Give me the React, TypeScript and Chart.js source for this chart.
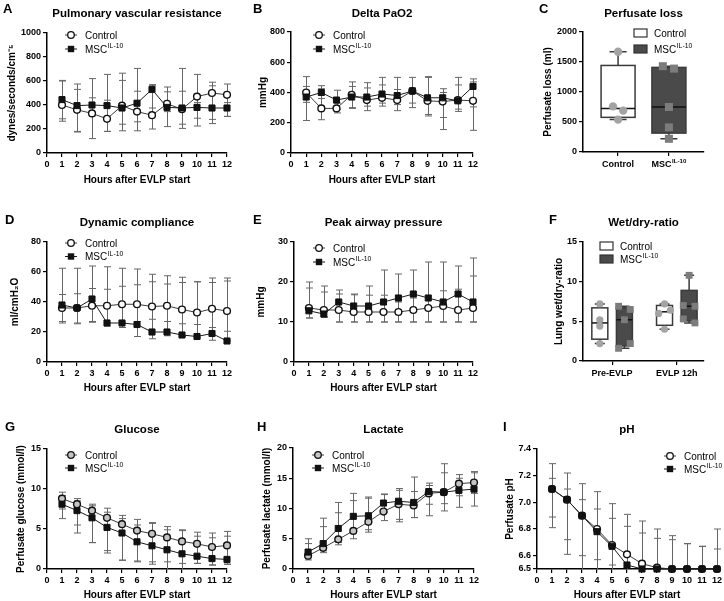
import React, { useEffect, useRef } from 'react';
import { Chart, registerables } from 'chart.js';
Chart.register(...registerables);

const FONT = '"Liberation Sans", Arial, Helvetica, sans-serif';
Chart.defaults.font.family = FONT;
Chart.defaults.color = '#000';

// ---------- shared ----------
const hours = [1, 2, 3, 4, 5, 6, 7, 8, 9, 10, 11, 12];
const hourTicks = [0, 1, 2, 3, 4, 5, 6, 7, 8, 9, 10, 11, 12];
const xTitleText = 'Hours after EVLP start';
const ctrlName = 'Control';
const mscName = 'MSC';
const mscSup = 'IL-10';

// ---------- A: Pulmonary vascular resistance ----------
const pvrCtrl = [400, 360, 330, 285, 395, 345, 315, 410, 365, 470, 500, 485];
const pvrCtrlLo = [265, 175, 120, 180, 185, 185, 200, 220, 205, 225, 245, 305];
const pvrCtrlHi = [600, 530, 460, 440, 605, 515, 560, 510, 515, 655, 590, 575];
const pvrMsc = [445, 395, 400, 395, 375, 415, 530, 380, 375, 380, 375, 375];
const pvrMscLo = [285, 180, 310, 180, 240, 260, 375, 345, 240, 290, 280, 305];
const pvrMscHi = [605, 575, 620, 655, 665, 705, 570, 550, 705, 420, 560, 420];
const pvrTicks = [0, 200, 400, 600, 800, 1000];

// ---------- B: Delta PaO2 ----------
const paoCtrl = [400, 295, 295, 385, 350, 365, 350, 410, 345, 340, 350, 345];
const paoCtrlLo = [215, 220, 265, 300, 280, 310, 280, 300, 245, 155, 275, 150];
const paoCtrlHi = [505, 425, 330, 470, 430, 450, 420, 500, 500, 400, 450, 470];
const paoMsc = [370, 400, 350, 370, 370, 390, 380, 410, 365, 365, 345, 440];
const paoMscLo = [335, 360, 290, 295, 310, 330, 320, 330, 255, 235, 290, 305];
const paoMscHi = [440, 445, 415, 440, 465, 500, 500, 430, 505, 425, 500, 490];
const paoTicks = [0, 200, 400, 600, 800];

// ---------- C: Perfusate loss (individual lungs) ----------
const lossCtrl = [1670, 760, 690, 540];
const lossCtrlJitter = [0, -0.1, 0.1, 0];
const lossMsc = [1430, 1390, 750, 410, 220];
const lossMscJitter = [-0.12, 0.1, 0, 0, 0];
const lossTicks = [0, 500, 1000, 1500, 2000];

// ---------- D: Dynamic compliance ----------
const compCtrl = [36, 36, 37.5, 37.5, 38.5, 38.5, 37, 37.5, 35, 33, 35.5, 34];
const compCtrlLo = [27, 26, 27, 26, 26.5, 27, 28.5, 27, 25.5, 25, 23, 20.5];
const compCtrlHi = [45, 45.5, 49, 48.5, 50.5, 51.5, 53.5, 52, 53, 53.5, 53, 54];
const compMsc = [38, 36, 42, 26, 26, 25, 20, 20, 18, 17, 19, 14];
const compMscLo = [26, 25.5, 26.5, 24, 23, 17, 15.5, 17.5, 17, 16, 14.5, 14];
const compMscHi = [62.5, 62.5, 64, 63.5, 62.5, 62, 58.5, 57.5, 56.5, 53.5, 56, 56];
const compTicks = [0, 20, 40, 60, 80];

// ---------- E: Peak airway pressure ----------
const pawCtrl = [13.5, 13, 13, 12.5, 12.5, 12.5, 12.5, 13, 13.5, 14, 13, 13.5];
const pawCtrlLo = [11, 11.2, 10, 10, 10, 10, 10, 10, 10, 10, 10, 10];
const pawCtrlHi = [18.5, 17.5, 17, 16.8, 16.7, 16.7, 15, 16, 16.5, 17.8, 18.2, 21.5];
const pawMsc = [12.8, 12, 15, 14, 14, 15, 16, 17, 16, 15, 17, 15];
const pawMscLo = [11, 11.2, 10, 10, 10, 10, 10, 10, 10, 10, 10, 10];
const pawMscHi = [20, 19, 18, 17, 19, 23, 22, 23, 25, 25, 24, 26];
const pawTicks = [0, 10, 20, 30];

// ---------- F: Wet/dry ratio (individual lungs) ----------
const wdCategories = ['Pre-EVLP', 'EVLP 12h'];
const wdPreCtrl = [7.2, 5.2, 4.4, 2.2];
const wdPreCtrlJitter = [0, 0, 0, 0];
const wdPreMsc = [6.9, 6.5, 5.2, 2.2, 1.6];
const wdPreMscJitter = [-0.09, 0.09, 0, 0.09, -0.09];
const wdPostCtrl = [7.2, 6.4, 6.0, 4.0];
const wdPostCtrlJitter = [0, 0.09, -0.09, 0];
const wdPostMsc = [10.8, 7.0, 6.9, 5.3, 4.8];
const wdPostMscJitter = [0, -0.09, 0.09, -0.09, 0.09];
const wdTicks = [0, 5, 10, 15];

// ---------- G: Glucose ----------
const gluCtrl = [8.8, 8.1, 7.3, 6.4, 5.6, 4.8, 4.4, 3.95, 3.45, 3.15, 2.75, 2.95];
const gluCtrlLo = [7.5, 5.5, 3.3, 2.3, 1.1, 1.0, 0.9, 0.9, 0.7, 0.7, 0.5, 0.6];
const gluCtrlHi = [9.6, 8.8, 8.1, 7.6, 6.7, 6.2, 5.8, 5.3, 4.9, 4.6, 4.5, 4.7];
const gluMsc = [8.1, 7.3, 6.4, 5.2, 4.5, 3.4, 2.9, 2.4, 1.9, 1.6, 1.3, 1.2];
const gluMscLo = [6.3, 4.5, 3.3, 2.0, 1.1, 0.9, 0.6, -0.5, -0.5, 0.7, 0.5, 0.6];
const gluMscHi = [9.2, 8.5, 7.9, 7.1, 6.3, 5.5, 5.7, 4.9, 4.8, 4.1, 3.9, 4.1];
const gluTicks = [0, 5, 10, 15];

// ---------- H: Lactate ----------
const lacCtrl = [2.2, 3.5, 4.9, 6.3, 7.8, 9.5, 10.7, 10.5, 12.5, 12.7, 14.1, 14.3];
const lacCtrlLo = [1.5, 2.7, 4.0, 5.0, 6.1, 8.0, 7.8, 8.5, 10.7, 9.6, 12.1, 12.5];
const lacCtrlHi = [4.2, 7.0, 9.3, 11.3, 11.7, 12.3, 13.3, 12.8, 14.2, 15.9, 15.6, 16.1];
const lacMsc = [2.8, 4.2, 6.7, 8.7, 8.8, 10.9, 11.2, 11.0, 12.8, 12.7, 13.0, 13.2];
const lacMscLo = [2.0, 3.0, 4.4, 6.5, 6.5, 9.4, 8.2, 8.5, 8.8, 10.8, 10.2, 10.4];
const lacMscHi = [5.0, 8.4, 11.0, 12.5, 11.9, 12.4, 13.0, 15.2, 13.8, 17.4, 15.0, 15.9];
const lacTicks = [0, 5, 10, 15, 20];

// ---------- I: pH ----------
const phCtrl = [7.10, 7.02, 6.90, 6.80, 6.68, 6.61, 6.54, 6.51, 6.50, 6.50, 6.50, 6.50];
const phCtrlLo = [6.89, 6.72, 6.60, 6.57, 6.53, 6.4, 6.4, 6.4, 6.4, 6.4, 6.4, 6.4];
const phCtrlHi = [7.18, 7.10, 7.02, 6.95, 6.88, 6.82, 6.77, 6.73, 6.72, 6.69, 6.67, 6.65];
const phMsc = [7.10, 7.02, 6.90, 6.78, 6.67, 6.53, 6.50, 6.50, 6.50, 6.50, 6.50, 6.50];
const phMscLo = [6.81, 6.61, 6.4, 6.4, 6.4, 6.4, 6.4, 6.4, 6.4, 6.4, 6.4, 6.4];
const phMscHi = [7.29, 7.22, 7.14, 7.08, 6.99, 6.91, 6.86, 6.80, 6.75, 6.69, 6.67, 6.80];
const phTicks = [6.5, 6.6, 6.8, 7.0, 7.2, 7.4];

// ---------- helpers ----------
function quantile(sorted: number[], p: number) {
  const n = sorted.length;
  let pos = p * (n + 1);
  if (pos < 1) pos = 1;
  if (pos > n) pos = n;
  const lo = Math.floor(pos);
  const frac = pos - lo;
  if (lo >= n) return sorted[n - 1];
  return sorted[lo - 1] + frac * (sorted[lo] - sorted[lo - 1]);
}

function drawRich(ctx: any, base: string, sup: string, x: number, y: number, size: number, weight: string, align: string) {
  const supSize = size * 0.68;
  ctx.font = `${weight} ${size}px ${FONT}`;
  const wb = ctx.measureText(base).width;
  ctx.font = `${weight} ${supSize}px ${FONT}`;
  const ws = sup ? ctx.measureText(sup).width + 0.5 : 0;
  const total = wb + ws;
  const x0 = align === 'center' ? x - total / 2 : align === 'right' ? x - total : x;
  ctx.textAlign = 'left';
  ctx.textBaseline = 'alphabetic';
  ctx.font = `${weight} ${size}px ${FONT}`;
  ctx.fillText(base, x0, y);
  if (sup) {
    ctx.font = `${weight} ${supSize}px ${FONT}`;
    ctx.fillText(sup, x0 + wb + 0.5, y - size * 0.42);
  }
}

type Series = { name: string; sup: string; mean: number[]; lo: number[]; hi: number[]; marker: 'circle' | 'rect'; fill: string };
type Group = { center: number; values: number[]; jitter: number[]; fill: string; pointColor: string; marker: 'circle' | 'rect' };

const CTRL_LINE = '#3a3a3a';
const MSC_LINE = '#1a1a1a';
const ERR_COLOR = '#666666';

function lineSeries(ctrl: number[], ctrlLo: number[], ctrlHi: number[], msc: number[], mscLo: number[], mscHi: number[], ctrlFill: string): Series[] {
  return [
    { name: ctrlName, sup: '', mean: ctrl, lo: ctrlLo, hi: ctrlHi, marker: 'circle', fill: ctrlFill },
    { name: mscName, sup: mscSup, mean: msc, lo: mscLo, hi: mscHi, marker: 'rect', fill: '#111' },
  ];
}

const panels: any[] = [
  {
    key: 'A', kind: 'line', canvas: { x: 0, y: 0, w: 248, h: 195 }, area: { l: 47, t: 33, r: 227, b: 153 },
    letter: 'A', letterX: 3, letterY: 13, title: 'Pulmonary vascular resistance', titleY: 17,
    yTitle: 'dynes/seconds/cm\u207B\u2075', yTitleX: 12, xTitleY: 180, yMin: 0, yMax: 1000, yTicks: pvrTicks,
    series: lineSeries(pvrCtrl, pvrCtrlLo, pvrCtrlHi, pvrMsc, pvrMscLo, pvrMscHi, '#fff'),
    legend: { x: 71, y: 35, dy: 14 },
  },
  {
    key: 'B', kind: 'line', canvas: { x: 248, y: 0, w: 247, h: 195 }, area: { l: 291, t: 32, r: 473, b: 153 },
    letter: 'B', letterX: 253, letterY: 13, title: 'Delta PaO2', titleY: 17,
    yTitle: 'mmHg', yTitleX: 263, xTitleY: 180, yMin: 0, yMax: 800, yTicks: paoTicks,
    series: lineSeries(paoCtrl, paoCtrlLo, paoCtrlHi, paoMsc, paoMscLo, paoMscHi, '#fff'),
    legend: { x: 319, y: 35, dy: 14 },
  },
  {
    key: 'C', kind: 'box', canvas: { x: 530, y: 0, w: 194, h: 195 }, area: { l: 583, t: 32, r: 704, b: 152 },
    letter: 'C', letterX: 539, letterY: 13, title: 'Perfusate loss', titleY: 17,
    yTitle: 'Perfusate loss (ml)', yTitleX: 548, yMin: 0, yMax: 2000, yTicks: lossTicks,
    xMin: -0.69, xMax: 1.69, xTickVals: [0, 1], xTickLabels: [[ctrlName, ''], [mscName, mscSup]], richXLabels: true,
    boxHalf: 17, capHalf: 8.5, pointRadius: 4.2,
    groups: [
      { center: 0, values: lossCtrl, jitter: lossCtrlJitter, fill: '#ffffff', pointColor: '#a3a3a3', marker: 'circle' },
      { center: 1, values: lossMsc, jitter: lossMscJitter, fill: '#4a4a4a', pointColor: '#7c7c7c', marker: 'rect' },
    ],
    legend: { x: 634, y: 33, dy: 16 },
  },
  {
    key: 'D', kind: 'line', canvas: { x: 0, y: 195, w: 248, h: 200 }, area: { l: 47, t: 242, r: 227, b: 362 },
    letter: 'D', letterX: 5, letterY: 224, title: 'Dynamic compliance', titleY: 226,
    yTitle: 'ml/cmH\u2082O', yTitleX: 15, xTitleY: 388, yMin: 0, yMax: 80, yTicks: compTicks,
    series: lineSeries(compCtrl, compCtrlLo, compCtrlHi, compMsc, compMscLo, compMscHi, '#fff'),
    legend: { x: 71, y: 243, dy: 13.5 },
  },
  {
    key: 'E', kind: 'line', canvas: { x: 248, y: 195, w: 247, h: 200 }, area: { l: 294, t: 242, r: 473, b: 362 },
    letter: 'E', letterX: 253, letterY: 224, title: 'Peak airway pressure', titleY: 226,
    yTitle: 'mmHg', yTitleX: 261, xTitleY: 388, yMin: 0, yMax: 30, yTicks: pawTicks,
    series: lineSeries(pawCtrl, pawCtrlLo, pawCtrlHi, pawMsc, pawMscLo, pawMscHi, '#fff'),
    legend: { x: 319, y: 248, dy: 14 },
  },
  {
    key: 'F', kind: 'box', canvas: { x: 530, y: 195, w: 194, h: 200 }, area: { l: 583, t: 242, r: 704, b: 361 },
    letter: 'F', letterX: 549, letterY: 224, title: 'Wet/dry-ratio', titleY: 226,
    yTitle: 'Lung wet/dry-ratio', yTitleX: 559, yMin: 0, yMax: 15, yTicks: wdTicks,
    xMin: -0.45, xMax: 1.42, xTickVals: [0, 1], xTickLabels: [[wdCategories[0], ''], [wdCategories[1], '']], richXLabels: false,
    boxHalf: 8, capHalf: 5, pointRadius: 3.6,
    groups: [
      { center: -0.19, values: wdPreCtrl, jitter: wdPreCtrlJitter, fill: '#ffffff', pointColor: '#a3a3a3', marker: 'circle' },
      { center: 0.19, values: wdPreMsc, jitter: wdPreMscJitter, fill: '#4a4a4a', pointColor: '#7c7c7c', marker: 'rect' },
      { center: 0.81, values: wdPostCtrl, jitter: wdPostCtrlJitter, fill: '#ffffff', pointColor: '#a3a3a3', marker: 'circle' },
      { center: 1.19, values: wdPostMsc, jitter: wdPostMscJitter, fill: '#4a4a4a', pointColor: '#7c7c7c', marker: 'rect' },
    ],
    legend: { x: 600, y: 246, dy: 13 },
  },
  {
    key: 'G', kind: 'line', canvas: { x: 0, y: 395, w: 248, h: 206 }, area: { l: 47, t: 449, r: 227, b: 569 },
    letter: 'G', letterX: 5, letterY: 431, title: 'Glucose', titleY: 433,
    yTitle: 'Perfusate glucose (mmol/l)', yTitleX: 21, xTitleY: 596, yMin: 0, yMax: 15, yTicks: gluTicks,
    series: lineSeries(gluCtrl, gluCtrlLo, gluCtrlHi, gluMsc, gluMscLo, gluMscHi, '#c4c4c4'),
    legend: { x: 71, y: 455, dy: 13 },
  },
  {
    key: 'H', kind: 'line', canvas: { x: 248, y: 395, w: 247, h: 206 }, area: { l: 293, t: 448, r: 474, b: 569 },
    letter: 'H', letterX: 257, letterY: 431, title: 'Lactate', titleY: 433,
    yTitle: 'Perfusate lactate (mmol/l)', yTitleX: 267, xTitleY: 596, yMin: 0, yMax: 20, yTicks: lacTicks,
    series: lineSeries(lacCtrl, lacCtrlLo, lacCtrlHi, lacMsc, lacMscLo, lacMscHi, '#c4c4c4'),
    legend: { x: 318, y: 455, dy: 13 },
  },
  {
    key: 'I', kind: 'line', canvas: { x: 495, y: 395, w: 229, h: 206 }, area: { l: 537, t: 449, r: 717, b: 569 },
    letter: 'I', letterX: 503, letterY: 431, title: 'pH', titleY: 433,
    yTitle: 'Perfusate pH', yTitleX: 510, xTitleY: 596, yMin: 6.5, yMax: 7.4, yTicks: phTicks, yFmt: (v: number) => v.toFixed(1),
    series: lineSeries(phCtrl, phCtrlLo, phCtrlHi, phMsc, phMscLo, phMscHi, '#fff'),
    legend: { x: 670, y: 456, dy: 13 },
  },
];

function drawMarker(ctx: any, kind: string, x: number, y: number, r: number, fill: string, stroke: string | null) {
  ctx.beginPath();
  if (kind === 'circle') ctx.arc(x, y, r, 0, Math.PI * 2);
  else ctx.rect(x - r, y - r, 2 * r, 2 * r);
  ctx.fillStyle = fill;
  ctx.fill();
  if (stroke) {
    ctx.strokeStyle = stroke;
    ctx.lineWidth = 1.3;
    ctx.stroke();
  }
}

function makeDecor(p: any) {
  const c = p.canvas;
  return {
    id: 'decor' + p.key,
    beforeDatasetsDraw(chart: any) {
      const ctx = chart.ctx;
      const ca = chart.chartArea;
      const xs = chart.scales.x;
      const ys = chart.scales.y;
      ctx.save();
      if (p.kind === 'line') {
        ctx.beginPath();
        ctx.rect(ca.left - 12, ca.top - 12, ca.right - ca.left + 24, ca.bottom - ca.top + 12);
        ctx.clip();
        p.series.forEach((s: Series) => {
          ctx.strokeStyle = ERR_COLOR;
          ctx.lineWidth = 1;
          hours.forEach((h, i) => {
            const x = Math.round(xs.getPixelForValue(h)) + 0.5;
            const yl = ys.getPixelForValue(s.lo[i]);
            const yh = ys.getPixelForValue(s.hi[i]);
            ctx.beginPath();
            ctx.moveTo(x, yl); ctx.lineTo(x, yh);
            ctx.moveTo(x - 3.5, yl); ctx.lineTo(x + 3.5, yl);
            ctx.moveTo(x - 3.5, yh); ctx.lineTo(x + 3.5, yh);
            ctx.stroke();
          });
        });
      } else {
        p.groups.forEach((g: Group) => {
          const s = [...g.values].sort((a, b) => a - b);
          const mn = s[0], mx = s[s.length - 1];
          const q1 = quantile(s, 0.25), md = quantile(s, 0.5), q3 = quantile(s, 0.75);
          const x = xs.getPixelForValue(g.center);
          const py = (v: number) => ys.getPixelForValue(v);
          const hw = p.boxHalf, cw = p.capHalf;
          ctx.strokeStyle = '#3a3a3a';
          ctx.lineWidth = 1.5;
          ctx.beginPath();
          ctx.moveTo(x, py(mn)); ctx.lineTo(x, py(q1));
          ctx.moveTo(x, py(q3)); ctx.lineTo(x, py(mx));
          ctx.moveTo(x - cw, py(mn)); ctx.lineTo(x + cw, py(mn));
          ctx.moveTo(x - cw, py(mx)); ctx.lineTo(x + cw, py(mx));
          ctx.stroke();
          ctx.fillStyle = g.fill;
          ctx.fillRect(x - hw, py(q3), 2 * hw, py(q1) - py(q3));
          ctx.strokeRect(x - hw, py(q3), 2 * hw, py(q1) - py(q3));
          ctx.strokeStyle = '#111';
          ctx.beginPath();
          ctx.moveTo(x - hw, py(md)); ctx.lineTo(x + hw, py(md));
          ctx.stroke();
        });
      }
      ctx.restore();
    },
    afterDraw(chart: any) {
      const ctx = chart.ctx;
      const ca = chart.chartArea;
      ctx.save();
      ctx.fillStyle = '#000';
      ctx.textBaseline = 'alphabetic';
      ctx.textAlign = 'left';
      ctx.font = `bold 13px ${FONT}`;
      ctx.fillText(p.letter, p.letterX - c.x, p.letterY - c.y);
      ctx.font = `bold 11.5px ${FONT}`;
      ctx.textAlign = 'center';
      ctx.fillText(p.title, (ca.left + ca.right) / 2, p.titleY - c.y);

      // legend
      const L = p.legend;
      const lx = L.x - c.x;
      const ly = L.y - c.y;
      if (p.kind === 'line') {
        p.series.forEach((s: Series, i: number) => {
          const y = ly + i * L.dy;
          ctx.strokeStyle = i === 0 ? CTRL_LINE : MSC_LINE;
          ctx.lineWidth = 1;
          ctx.beginPath();
          ctx.moveTo(lx - 6, y); ctx.lineTo(lx + 6, y);
          ctx.stroke();
          if (s.marker === 'circle') drawMarker(ctx, 'circle', lx, y, 3.3, s.fill, '#111');
          else drawMarker(ctx, 'rect', lx, y, 3.2, '#111', null);
          ctx.fillStyle = '#000';
          drawRich(ctx, s.name, s.sup, lx + 14, y + 3.6, 10, 'normal', 'left');
        });
      } else {
        const entries = [
          { name: ctrlName, sup: '', fill: p.groups[0].fill },
          { name: mscName, sup: mscSup, fill: p.groups[1].fill },
        ];
        entries.forEach((e, i) => {
          const y = ly + i * L.dy;
          ctx.fillStyle = e.fill;
          ctx.fillRect(lx, y - 4, 13, 8);
          ctx.strokeStyle = '#333';
          ctx.lineWidth = 1.2;
          ctx.strokeRect(lx, y - 4, 13, 8);
          ctx.fillStyle = '#000';
          drawRich(ctx, e.name, e.sup, lx + 20, y + 3.6, 10, 'normal', 'left');
        });
        if (p.richXLabels) {
          const xs = chart.scales.x;
          p.xTickVals.forEach((v: number, i: number) => {
            const lab = p.xTickLabels[i];
            ctx.fillStyle = '#000';
            drawRich(ctx, lab[0], lab[1], xs.getPixelForValue(v), ca.bottom + 14.5, 9, 'bold', 'center');
          });
        }
      }
      ctx.restore();
    },
  };
}

function buildConfig(p: any) {
  const c = p.canvas, a = p.area;
  const areaL = a.l - c.x, areaT = a.t - c.y, areaR = a.r - c.x, areaB = a.b - c.y;
  const padRight = c.w - areaR;
  const xH = c.h - areaB;
  const tickFont = { size: 9, weight: 'bold', family: FONT };
  const titleFont = { size: 10, weight: 'bold', family: FONT };
  const grid = { display: true, drawOnChartArea: false, drawTicks: true, tickLength: 4, color: '#000', lineWidth: 1.2 };
  const border = { display: true, color: '#000', width: 1.5 };
  const yTitlePad = Math.max(0, p.yTitleX - c.x - 6);
  const xTitlePad = p.xTitleY != null ? Math.max(0, c.h - (p.xTitleY - c.y) - 6) : 0;
  const yFmt = p.yFmt || ((v: number) => String(v));

  const yScale: any = {
    type: 'linear', min: p.yMin, max: p.yMax,
    afterBuildTicks: (s: any) => { s.ticks = p.yTicks.map((v: number) => ({ value: v })); },
    afterFit: (s: any) => { s.width = areaL; },
    ticks: { font: tickFont, color: '#000', padding: 2, callback: (v: any) => yFmt(Number(v)) },
    title: { display: true, text: p.yTitle, font: titleFont, color: '#000', padding: { top: yTitlePad, bottom: 0 } },
    grid, border,
  };

  let xScale: any;
  let datasets: any[];
  if (p.kind === 'line') {
    xScale = {
      type: 'linear', min: 0, max: 12,
      afterBuildTicks: (s: any) => { s.ticks = hourTicks.map((v) => ({ value: v })); },
      afterFit: (s: any) => { s.height = xH; },
      ticks: { font: tickFont, color: '#000', padding: 2, autoSkip: false, maxRotation: 0, callback: (v: any) => String(v) },
      title: { display: true, text: xTitleText, font: titleFont, color: '#000', padding: { top: 0, bottom: xTitlePad } },
      grid, border,
    };
    const [ctrl, msc] = p.series;
    datasets = [
      {
        label: msc.name, data: hours.map((h, i) => ({ x: h, y: msc.mean[i] })),
        borderColor: MSC_LINE, borderWidth: 1, pointStyle: 'rect', pointRadius: 4.3, pointBackgroundColor: '#111',
        pointBorderColor: '#111', pointBorderWidth: 1, fill: false, tension: 0, clip: false,
      },
      {
        label: ctrl.name, data: hours.map((h, i) => ({ x: h, y: ctrl.mean[i] })),
        borderColor: CTRL_LINE, borderWidth: 1, pointStyle: 'circle', pointRadius: 3.4, pointBackgroundColor: ctrl.fill,
        pointBorderColor: '#111', pointBorderWidth: 1.4, fill: false, tension: 0, clip: false,
      },
    ];
  } else {
    xScale = {
      type: 'linear', min: p.xMin, max: p.xMax,
      afterBuildTicks: (s: any) => { s.ticks = p.xTickVals.map((v: number) => ({ value: v })); },
      afterFit: (s: any) => { s.height = xH; },
      ticks: {
        font: tickFont, color: '#000', padding: 3, autoSkip: false, maxRotation: 0,
        callback: (v: any, i: number) => (p.richXLabels ? '' : p.xTickLabels[i][0]),
      },
      grid, border,
    };
    datasets = p.groups.map((g: Group) => ({
      label: 'pts',
      data: g.values.map((v, i) => ({ x: g.center + g.jitter[i], y: v })),
      pointStyle: g.marker, pointRadius: g.marker === 'rect' ? p.pointRadius * 1.35 : p.pointRadius,
      pointBackgroundColor: g.pointColor, pointBorderColor: g.pointColor, pointBorderWidth: 0, showLine: false, clip: false,
    }));
  }

  return {
    type: p.kind === 'line' ? 'line' : 'scatter',
    data: { datasets },
    options: {
      responsive: false,
      maintainAspectRatio: false,
      animation: false,
      events: [],
      devicePixelRatio: 1,
      layout: { padding: { left: 0, top: areaT, right: padRight, bottom: 0 } },
      scales: { x: xScale, y: yScale },
      plugins: { legend: { display: false }, title: { display: false }, tooltip: { enabled: false } },
    },
    plugins: [makeDecor(p)],
  };
}

function PanelChart({ p }: { p: any }) {
  const ref = useRef<HTMLCanvasElement>(null);
  useEffect(() => {
    const chart = new Chart(ref.current as HTMLCanvasElement, buildConfig(p) as any);
    return () => chart.destroy();
  }, []);
  return (
    <canvas
      ref={ref}
      width={p.canvas.w}
      height={p.canvas.h}
      style={{ position: 'absolute', left: p.canvas.x, top: p.canvas.y, width: p.canvas.w, height: p.canvas.h }}
    />
  );
}

export default function App() {
  return (
    <div style={{ position: 'absolute', left: 0, top: 0, width: 724, height: 601, background: '#fff', overflow: 'hidden' }}>
      {panels.map((p) => (
        <PanelChart key={p.key} p={p} />
      ))}
    </div>
  );
}
